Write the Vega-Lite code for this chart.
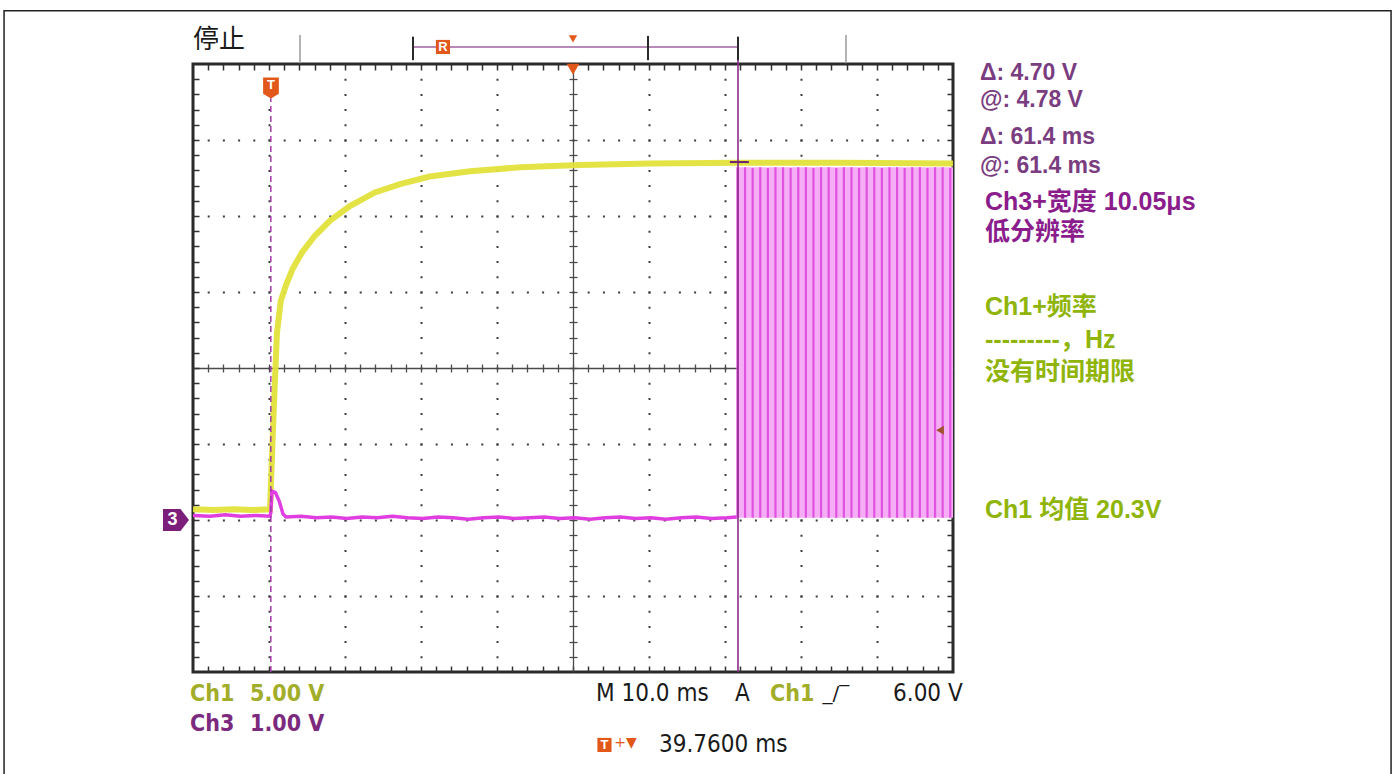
{
  "$schema": "https://vega.github.io/schema/vega-lite/v6.json",
  "width": 760,
  "height": 608,
  "autosize": {"type": "none"},
  "padding": {"left": 193, "top": 64, "right": 442, "bottom": 102},
  "background": "white",
  "config": {"view": {"stroke": "#2a2a2a", "strokeWidth": 3}},
  "resolve": {"axis": {"x": "independent", "y": "independent"}},
  "datasets": {
    "band": [{"t0": 61.4, "t1": 89.76, "lo": -1.97, "hi": 2.64}],
    "pulses": [
      {"t": 61.4, "lo": -1.97, "hi": 2.64}, {"t": 62.4, "lo": -1.97, "hi": 2.64}, {"t": 63.4, "lo": -1.97, "hi": 2.63},
      {"t": 64.4, "lo": -1.97, "hi": 2.64}, {"t": 65.4, "lo": -1.97, "hi": 2.63}, {"t": 66.4, "lo": -1.97, "hi": 2.64},
      {"t": 67.4, "lo": -1.97, "hi": 2.64}, {"t": 68.4, "lo": -1.97, "hi": 2.63}, {"t": 69.4, "lo": -1.97, "hi": 2.64},
      {"t": 70.4, "lo": -1.97, "hi": 2.64}, {"t": 71.4, "lo": -1.97, "hi": 2.63}, {"t": 72.4, "lo": -1.97, "hi": 2.64},
      {"t": 73.4, "lo": -1.97, "hi": 2.64}, {"t": 74.4, "lo": -1.97, "hi": 2.63}, {"t": 75.4, "lo": -1.97, "hi": 2.64},
      {"t": 76.4, "lo": -1.97, "hi": 2.64}, {"t": 77.4, "lo": -1.97, "hi": 2.63}, {"t": 78.4, "lo": -1.97, "hi": 2.64},
      {"t": 79.4, "lo": -1.97, "hi": 2.64}, {"t": 80.4, "lo": -1.97, "hi": 2.63}, {"t": 81.4, "lo": -1.97, "hi": 2.64},
      {"t": 82.4, "lo": -1.97, "hi": 2.64}, {"t": 83.4, "lo": -1.97, "hi": 2.63}, {"t": 84.4, "lo": -1.97, "hi": 2.64},
      {"t": 85.4, "lo": -1.97, "hi": 2.64}, {"t": 86.4, "lo": -1.97, "hi": 2.63}, {"t": 87.4, "lo": -1.97, "hi": 2.64},
      {"t": 88.4, "lo": -1.97, "hi": 2.64}, {"t": 89.4, "lo": -1.97, "hi": 2.63}
    ],
    "ch1": [
      {"t": -10.24, "v": -1.86}, {"t": -7.5, "v": -1.87}, {"t": -5.0, "v": -1.86}, {"t": -2.5, "v": -1.87},
      {"t": -0.1, "v": -1.86}, {"t": 0.1, "v": -1.3}, {"t": 0.4, "v": -0.5}, {"t": 0.8, "v": 0.45},
      {"t": 1.3, "v": 0.88}, {"t": 2.0, "v": 1.09}, {"t": 2.9, "v": 1.31}, {"t": 4.1, "v": 1.52},
      {"t": 5.8, "v": 1.74}, {"t": 7.8, "v": 1.94}, {"t": 10.4, "v": 2.13}, {"t": 13.7, "v": 2.31},
      {"t": 17.0, "v": 2.42}, {"t": 20.9, "v": 2.52}, {"t": 26.2, "v": 2.59}, {"t": 32.8, "v": 2.64},
      {"t": 40.7, "v": 2.67}, {"t": 49.9, "v": 2.69}, {"t": 61.5, "v": 2.7}, {"t": 75.0, "v": 2.7},
      {"t": 89.76, "v": 2.69}
    ],
    "ch3": [
      {"t": -10.24, "v": -1.94}, {"t": -8, "v": -1.95}, {"t": -6, "v": -1.93}, {"t": -4, "v": -1.95},
      {"t": -2, "v": -1.94}, {"t": -0.1, "v": -1.95}, {"t": 0.0, "v": -1.9}, {"t": 0.15, "v": -1.62},
      {"t": 0.6, "v": -1.64}, {"t": 1.1, "v": -1.75}, {"t": 1.6, "v": -1.92}, {"t": 2.0, "v": -1.96},
      {"t": 4, "v": -1.95}, {"t": 6, "v": -1.97}, {"t": 8, "v": -1.96}, {"t": 10, "v": -1.98},
      {"t": 12, "v": -1.96}, {"t": 14, "v": -1.97}, {"t": 16, "v": -1.95}, {"t": 18, "v": -1.97},
      {"t": 20, "v": -1.98}, {"t": 22, "v": -1.96}, {"t": 24, "v": -1.97}, {"t": 26, "v": -1.99},
      {"t": 28, "v": -1.97}, {"t": 30, "v": -1.96}, {"t": 32, "v": -1.98}, {"t": 34, "v": -1.97},
      {"t": 36, "v": -1.96}, {"t": 38, "v": -1.98}, {"t": 40, "v": -1.97}, {"t": 42, "v": -1.99},
      {"t": 44, "v": -1.97}, {"t": 46, "v": -1.96}, {"t": 48, "v": -1.98}, {"t": 50, "v": -1.97},
      {"t": 52, "v": -1.99}, {"t": 54, "v": -1.97}, {"t": 56, "v": -1.96}, {"t": 58, "v": -1.98},
      {"t": 60, "v": -1.97}, {"t": 61.3, "v": -1.96}
    ]
  },
  "layer": [
    {
      "data": {"name": "band"},
      "mark": {"type": "rect", "color": "#f5aef5"},
      "encoding": {
        "x": {"field": "t0", "type": "quantitative", "scale": {"domain": [-10.24, 89.76], "nice": false, "zero": false},
          "axis": {"orient": "bottom", "values": [-0.24, 9.76, 19.76, 29.76, 49.76, 59.76, 69.76, 79.76], "grid": true, "gridColor": "#3c3c3c", "gridWidth": 2, "gridDash": [2, 13.2], "gridDashOffset": 1, "domain": false, "ticks": false, "labels": false, "title": null}},
        "x2": {"field": "t1"},
        "y": {"field": "lo", "type": "quantitative", "scale": {"domain": [-4, 4], "nice": false, "zero": false},
          "axis": {"orient": "left", "values": [-3, -2, -1, 1, 2, 3], "grid": true, "gridColor": "#3c3c3c", "gridWidth": 2, "gridDash": [2, 13.2], "gridDashOffset": 1, "domain": false, "ticks": false, "labels": false, "title": null}},
        "y2": {"field": "hi"}
      }
    },
    {
      "data": {"name": "pulses"},
      "mark": {"type": "rule", "color": "#e052e0", "strokeWidth": 2.2},
      "encoding": {
        "x": {"field": "t", "type": "quantitative", "scale": {"domain": [-10.24, 89.76], "nice": false, "zero": false},
          "axis": {"orient": "bottom", "values": [-8.24, -6.24, -4.24, -2.24, -0.24, 1.76, 3.76, 5.76, 7.76, 9.76, 11.76, 13.76, 15.76, 17.76, 19.76, 21.76, 23.76, 25.76, 27.76, 29.76, 31.76, 33.76, 35.76, 37.76, 39.76, 41.76, 43.76, 45.76, 47.76, 49.76, 51.76, 53.76, 55.76, 57.76, 59.76, 61.76, 63.76, 65.76, 67.76, 69.76, 71.76, 73.76, 75.76, 77.76, 79.76, 81.76, 83.76, 85.76, 87.76], "domain": false, "ticks": true, "tickSize": -6, "tickColor": "#333333", "tickWidth": 1.5, "labels": false, "grid": false, "title": null}},
        "y": {"field": "lo", "type": "quantitative", "scale": {"domain": [-4, 4], "nice": false, "zero": false},
          "axis": {"orient": "left", "values": [-3.8, -3.6, -3.4, -3.2, -3, -2.8, -2.6, -2.4, -2.2, -2, -1.8, -1.6, -1.4, -1.2, -1, -0.8, -0.6, -0.4, -0.2, 0, 0.2, 0.4, 0.6, 0.8, 1, 1.2, 1.4, 1.6, 1.8, 2, 2.2, 2.4, 2.6, 2.8, 3, 3.2, 3.4, 3.6, 3.8], "domain": false, "ticks": true, "tickSize": -6, "tickColor": "#333333", "tickWidth": 1.5, "labels": false, "grid": false, "title": null}},
        "y2": {"field": "hi"}
      }
    },
    {
      "data": {"name": "ch1"},
      "mark": {"type": "line", "color": "#e2e23c", "strokeWidth": 6, "opacity": 0.95},
      "encoding": {
        "x": {"field": "t", "type": "quantitative", "scale": {"domain": [-10.24, 89.76], "nice": false, "zero": false},
          "axis": {"orient": "top", "values": [-8.24, -6.24, -4.24, -2.24, -0.24, 1.76, 3.76, 5.76, 7.76, 9.76, 11.76, 13.76, 15.76, 17.76, 19.76, 21.76, 23.76, 25.76, 27.76, 29.76, 31.76, 33.76, 35.76, 37.76, 39.76, 41.76, 43.76, 45.76, 47.76, 49.76, 51.76, 53.76, 55.76, 57.76, 59.76, 61.76, 63.76, 65.76, 67.76, 69.76, 71.76, 73.76, 75.76, 77.76, 79.76, 81.76, 83.76, 85.76, 87.76], "domain": false, "ticks": true, "tickSize": -6, "tickColor": "#333333", "tickWidth": 1.5, "labels": false, "grid": false, "title": null}},
        "y": {"field": "v", "type": "quantitative", "scale": {"domain": [-4, 4], "nice": false, "zero": false},
          "axis": {"orient": "right", "values": [-3.8, -3.6, -3.4, -3.2, -3, -2.8, -2.6, -2.4, -2.2, -2, -1.8, -1.6, -1.4, -1.2, -1, -0.8, -0.6, -0.4, -0.2, 0, 0.2, 0.4, 0.6, 0.8, 1, 1.2, 1.4, 1.6, 1.8, 2, 2.2, 2.4, 2.6, 2.8, 3, 3.2, 3.4, 3.6, 3.8], "domain": false, "ticks": true, "tickSize": -6, "tickColor": "#333333", "tickWidth": 1.5, "labels": false, "grid": false, "title": null}}
      }
    },
    {
      "data": {"name": "ch3"},
      "mark": {"type": "line", "color": "#e03ee0", "strokeWidth": 3.5},
      "encoding": {
        "x": {"field": "t", "type": "quantitative", "scale": {"domain": [-10.24, 89.76], "nice": false, "zero": false},
          "axis": {"orient": "bottom", "offset": -304, "values": [-8.24, -6.24, -4.24, -2.24, -0.24, 1.76, 3.76, 5.76, 7.76, 9.76, 11.76, 13.76, 15.76, 17.76, 19.76, 21.76, 23.76, 25.76, 27.76, 29.76, 31.76, 33.76, 35.76, 37.76, 39.76, 41.76, 43.76, 45.76, 47.76, 49.76, 51.76, 53.76, 55.76, 57.76, 59.76, 61.76, 63.76, 65.76, 67.76, 69.76, 71.76, 73.76, 75.76, 77.76, 79.76, 81.76, 83.76, 85.76, 87.76], "domain": true, "domainColor": "#4a4a4a", "domainWidth": 1.3, "ticks": true, "tickSize": 4, "tickColor": "#4a4a4a", "tickWidth": 1.3, "labels": false, "grid": false, "title": null}},
        "y": {"field": "v", "type": "quantitative", "scale": {"domain": [-4, 4], "nice": false, "zero": false},
          "axis": {"orient": "left", "offset": -380, "values": [-3.8, -3.6, -3.4, -3.2, -3, -2.8, -2.6, -2.4, -2.2, -2, -1.8, -1.6, -1.4, -1.2, -1, -0.8, -0.6, -0.4, -0.2, 0, 0.2, 0.4, 0.6, 0.8, 1, 1.2, 1.4, 1.6, 1.8, 2, 2.2, 2.4, 2.6, 2.8, 3, 3.2, 3.4, 3.6, 3.8], "domain": true, "domainColor": "#4a4a4a", "domainWidth": 1.3, "ticks": true, "tickSize": 4, "tickColor": "#4a4a4a", "tickWidth": 1.3, "labels": false, "grid": false, "title": null}}
      }
    },
    {
      "data": {"values": [{"t": 0.0, "lo": -4, "hi": 3.55}]},
      "mark": {"type": "rule", "color": "#a23aa8", "strokeWidth": 1.5, "strokeDash": [6, 4]},
      "encoding": {
        "x": {"field": "t", "type": "quantitative", "scale": {"domain": [-10.24, 89.76], "nice": false, "zero": false},
          "axis": {"orient": "top", "offset": -304, "values": [-8.24, -6.24, -4.24, -2.24, -0.24, 1.76, 3.76, 5.76, 7.76, 9.76, 11.76, 13.76, 15.76, 17.76, 19.76, 21.76, 23.76, 25.76, 27.76, 29.76, 31.76, 33.76, 35.76, 37.76, 39.76, 41.76, 43.76, 45.76, 47.76, 49.76, 51.76, 53.76, 55.76, 57.76, 59.76, 61.76, 63.76, 65.76, 67.76, 69.76, 71.76, 73.76, 75.76, 77.76, 79.76, 81.76, 83.76, 85.76, 87.76], "domain": false, "ticks": true, "tickSize": 4, "tickColor": "#4a4a4a", "tickWidth": 1.3, "labels": false, "grid": false, "title": null}},
        "y": {"field": "lo", "type": "quantitative", "scale": {"domain": [-4, 4], "nice": false, "zero": false},
          "axis": {"orient": "right", "offset": -380, "values": [-3.8, -3.6, -3.4, -3.2, -3, -2.8, -2.6, -2.4, -2.2, -2, -1.8, -1.6, -1.4, -1.2, -1, -0.8, -0.6, -0.4, -0.2, 0, 0.2, 0.4, 0.6, 0.8, 1, 1.2, 1.4, 1.6, 1.8, 2, 2.2, 2.4, 2.6, 2.8, 3, 3.2, 3.4, 3.6, 3.8], "domain": false, "ticks": true, "tickSize": 4, "tickColor": "#4a4a4a", "tickWidth": 1.3, "labels": false, "grid": false, "title": null}},
        "y2": {"field": "hi"}
      }
    },
    {
      "data": {"values": [{"t": 61.47, "lo": -4, "hi": 4.3}]},
      "mark": {"type": "rule", "color": "#8c2a8c", "strokeWidth": 1.6},
      "encoding": {
        "x": {"field": "t", "type": "quantitative", "scale": {"domain": [-10.24, 89.76], "nice": false, "zero": false}, "axis": null},
        "y": {"field": "lo", "type": "quantitative", "scale": {"domain": [-4, 4], "nice": false, "zero": false}, "axis": null},
        "y2": {"field": "hi"}
      }
    },
    {
      "data": {"values": [{"a": 60.4, "b": 62.9, "v": 2.71}]},
      "mark": {"type": "rule", "color": "#6e2470", "strokeWidth": 2},
      "encoding": {
        "x": {"field": "a", "type": "quantitative", "scale": {"domain": [-10.24, 89.76], "nice": false, "zero": false}, "axis": null},
        "x2": {"field": "b"},
        "y": {"field": "v", "type": "quantitative", "scale": {"domain": [-4, 4], "nice": false, "zero": false}, "axis": null}
      }
    },
    {
      "data": {"values": [{"a": 18.71, "b": 61.47, "v": 4.224}]},
      "mark": {"type": "rule", "color": "#b78ab7", "strokeWidth": 2},
      "encoding": {
        "x": {"field": "a", "type": "quantitative", "scale": {"domain": [-10.24, 89.76], "nice": false, "zero": false}, "axis": null},
        "x2": {"field": "b"},
        "y": {"field": "v", "type": "quantitative", "scale": {"domain": [-4, 4], "nice": false, "zero": false}, "axis": null}
      }
    },
    {
      "data": {"values": [{"t": 18.71, "lo": 4.05, "hi": 4.36}, {"t": 61.47, "lo": 4.05, "hi": 4.36}, {"t": 49.63, "lo": 4.05, "hi": 4.37}]},
      "mark": {"type": "rule", "color": "#2a2a2a", "strokeWidth": 2},
      "encoding": {
        "x": {"field": "t", "type": "quantitative", "scale": {"domain": [-10.24, 89.76], "nice": false, "zero": false}, "axis": null},
        "y": {"field": "lo", "type": "quantitative", "scale": {"domain": [-4, 4], "nice": false, "zero": false}, "axis": null},
        "y2": {"field": "hi"}
      }
    },
    {
      "data": {"values": [{"t": 3.84, "lo": 4.01, "hi": 4.38}, {"t": 75.68, "lo": 4.01, "hi": 4.38}]},
      "mark": {"type": "rule", "color": "#9a9a9a", "strokeWidth": 1.5},
      "encoding": {
        "x": {"field": "t", "type": "quantitative", "scale": {"domain": [-10.24, 89.76], "nice": false, "zero": false}, "axis": null},
        "y": {"field": "lo", "type": "quantitative", "scale": {"domain": [-4, 4], "nice": false, "zero": false}, "axis": null},
        "y2": {"field": "hi"}
      }
    },
    {
      "data": {"values": [{"t": 39.76, "v": 3.93}]},
      "mark": {"type": "point", "shape": "triangle-down", "filled": true, "size": 160, "color": "#e2581b", "opacity": 1},
      "encoding": {
        "x": {"field": "t", "type": "quantitative", "scale": {"domain": [-10.24, 89.76], "nice": false, "zero": false}, "axis": null},
        "y": {"field": "v", "type": "quantitative", "scale": {"domain": [-4, 4], "nice": false, "zero": false}, "axis": null}
      }
    },
    {
      "data": {"values": [{"t": 39.76, "v": 4.33}]},
      "mark": {"type": "point", "shape": "triangle-down", "filled": true, "size": 70, "color": "#e2581b", "opacity": 1},
      "encoding": {
        "x": {"field": "t", "type": "quantitative", "scale": {"domain": [-10.24, 89.76], "nice": false, "zero": false}, "axis": null},
        "y": {"field": "v", "type": "quantitative", "scale": {"domain": [-4, 4], "nice": false, "zero": false}, "axis": null}
      }
    },
    {
      "data": {"values": [{"t": 88.05, "v": -0.82}]},
      "mark": {"type": "point", "shape": "triangle-left", "filled": true, "size": 80, "color": "#a0522d", "opacity": 1},
      "encoding": {
        "x": {"field": "t", "type": "quantitative", "scale": {"domain": [-10.24, 89.76], "nice": false, "zero": false}, "axis": null},
        "y": {"field": "v", "type": "quantitative", "scale": {"domain": [-4, 4], "nice": false, "zero": false}, "axis": null}
      }
    },
    {
      "data": {"values": [{"t": 0.02, "v": 3.684}]},
      "mark": {"type": "point", "shape": "M-0.75,-1L0.75,-1L0.75,0.55L0,1L-0.75,0.55Z", "filled": true, "size": 441, "color": "#e2581b", "opacity": 1},
      "encoding": {
        "x": {"field": "t", "type": "quantitative", "scale": {"domain": [-10.24, 89.76], "nice": false, "zero": false}, "axis": null},
        "y": {"field": "v", "type": "quantitative", "scale": {"domain": [-4, 4], "nice": false, "zero": false}, "axis": null}
      }
    },
    {
      "data": {"values": [{"t": 22.65, "v": 4.224}, {"t": 43.9, "v": -4.96}]},
      "mark": {"type": "point", "shape": "square", "filled": true, "size": 200, "color": "#e2581b", "opacity": 1},
      "encoding": {
        "x": {"field": "t", "type": "quantitative", "scale": {"domain": [-10.24, 89.76], "nice": false, "zero": false}, "axis": null},
        "y": {"field": "v", "type": "quantitative", "scale": {"domain": [-4, 4], "nice": false, "zero": false}, "axis": null}
      }
    },
    {
      "data": {"values": [{"t": 0.02, "v": 3.72, "label": "T"}, {"t": 43.9, "v": -4.955, "label": "T"}, {"t": 22.65, "v": 4.224, "label": "R"}]},
      "mark": {"type": "text", "align": "center", "baseline": "middle", "font": "Liberation Sans", "fontSize": 13, "fontWeight": "bold", "color": "#ffffff"},
      "encoding": {
        "x": {"field": "t", "type": "quantitative", "scale": {"domain": [-10.24, 89.76], "nice": false, "zero": false}, "axis": null},
        "y": {"field": "v", "type": "quantitative", "scale": {"domain": [-4, 4], "nice": false, "zero": false}, "axis": null},
        "text": {"field": "label"}
      }
    },
    {
      "data": {"values": [{"t": -12.48, "v": -2.0}]},
      "mark": {"type": "point", "shape": "M-1,-0.85L0.35,-0.85L1,0L0.35,0.85L-1,0.85Z", "filled": true, "size": 676, "color": "#7b1f7b", "opacity": 1},
      "encoding": {
        "x": {"field": "t", "type": "quantitative", "scale": {"domain": [-10.24, 89.76], "nice": false, "zero": false}, "axis": null},
        "y": {"field": "v", "type": "quantitative", "scale": {"domain": [-4, 4], "nice": false, "zero": false}, "axis": null}
      }
    },
    {
      "data": {"values": [{"t": -12.95, "v": -2.0, "label": "3"}]},
      "mark": {"type": "text", "align": "center", "baseline": "middle", "font": "Liberation Sans", "fontSize": 18, "fontWeight": "bold", "color": "#ffffff"},
      "encoding": {
        "x": {"field": "t", "type": "quantitative", "scale": {"domain": [-10.24, 89.76], "nice": false, "zero": false}, "axis": null},
        "y": {"field": "v", "type": "quantitative", "scale": {"domain": [-4, 4], "nice": false, "zero": false}, "axis": null},
        "text": {"field": "label"}
      }
    },
    {
      "data": {"values": [{"t": -10.24, "v": 4.316, "label": "停止"}]},
      "mark": {"type": "text", "align": "left", "baseline": "middle", "font": "Noto Sans CJK SC", "fontSize": 26, "fontWeight": "normal", "color": "#1a1a1a"},
      "encoding": {
        "x": {"field": "t", "type": "quantitative", "scale": {"domain": [-10.24, 89.76], "nice": false, "zero": false}, "axis": null},
        "y": {"field": "v", "type": "quantitative", "scale": {"domain": [-4, 4], "nice": false, "zero": false}, "axis": null},
        "text": {"field": "label"}
      }
    },
    {
      "data": {"values": [
        {"t": 93.31, "v": 3.882, "label": "Δ: 4.70 V"},
        {"t": 93.31, "v": 3.526, "label": "@: 4.78 V"},
        {"t": 93.31, "v": 3.039, "label": "Δ: 61.4 ms"},
        {"t": 93.31, "v": 2.658, "label": "@: 61.4 ms"}
      ]},
      "mark": {"type": "text", "align": "left", "baseline": "middle", "font": "Liberation Sans", "fontSize": 23, "fontWeight": "bold", "color": "#7a3d7f"},
      "encoding": {
        "x": {"field": "t", "type": "quantitative", "scale": {"domain": [-10.24, 89.76], "nice": false, "zero": false}, "axis": null},
        "y": {"field": "v", "type": "quantitative", "scale": {"domain": [-4, 4], "nice": false, "zero": false}, "axis": null},
        "text": {"field": "label"}
      }
    },
    {
      "data": {"values": [
        {"t": 93.97, "v": 2.184, "label": "Ch3+宽度 10.05μs"},
        {"t": 93.97, "v": 1.789, "label": "低分辨率"}
      ]},
      "mark": {"type": "text", "align": "left", "baseline": "middle", "font": "Liberation Sans, Noto Sans CJK SC", "fontSize": 25, "fontWeight": "bold", "color": "#8a1c8c"},
      "encoding": {
        "x": {"field": "t", "type": "quantitative", "scale": {"domain": [-10.24, 89.76], "nice": false, "zero": false}, "axis": null},
        "y": {"field": "v", "type": "quantitative", "scale": {"domain": [-4, 4], "nice": false, "zero": false}, "axis": null},
        "text": {"field": "label"}
      }
    },
    {
      "data": {"values": [
        {"t": 93.97, "v": 0.803, "label": "Ch1+频率"},
        {"t": 93.97, "v": 0.368, "label": "---------，Hz"},
        {"t": 93.97, "v": -0.053, "label": "没有时间期限"},
        {"t": 93.97, "v": -1.868, "label": "Ch1 均值 20.3V"}
      ]},
      "mark": {"type": "text", "align": "left", "baseline": "middle", "font": "Liberation Sans, Noto Sans CJK SC", "fontSize": 25, "fontWeight": "bold", "color": "#8fb40a"},
      "encoding": {
        "x": {"field": "t", "type": "quantitative", "scale": {"domain": [-10.24, 89.76], "nice": false, "zero": false}, "axis": null},
        "y": {"field": "v", "type": "quantitative", "scale": {"domain": [-4, 4], "nice": false, "zero": false}, "axis": null},
        "text": {"field": "label"}
      }
    },
    {
      "data": {"values": [
        {"t": -10.63, "v": -4.29, "label": "Ch1"},
        {"t": -2.74, "v": -4.29, "label": "5.00 V"},
        {"t": 65.68, "v": -4.29, "label": "Ch1"}
      ]},
      "mark": {"type": "text", "align": "left", "baseline": "middle", "font": "DejaVu Sans Condensed", "fontSize": 23, "fontWeight": "bold", "color": "#a2ad2a"},
      "encoding": {
        "x": {"field": "t", "type": "quantitative", "scale": {"domain": [-10.24, 89.76], "nice": false, "zero": false}, "axis": null},
        "y": {"field": "v", "type": "quantitative", "scale": {"domain": [-4, 4], "nice": false, "zero": false}, "axis": null},
        "text": {"field": "label"}
      }
    },
    {
      "data": {"values": [
        {"t": -10.63, "v": -4.684, "label": "Ch3"},
        {"t": -2.74, "v": -4.684, "label": "1.00 V"}
      ]},
      "mark": {"type": "text", "align": "left", "baseline": "middle", "font": "DejaVu Sans Condensed", "fontSize": 23, "fontWeight": "bold", "color": "#7b2a7d"},
      "encoding": {
        "x": {"field": "t", "type": "quantitative", "scale": {"domain": [-10.24, 89.76], "nice": false, "zero": false}, "axis": null},
        "y": {"field": "v", "type": "quantitative", "scale": {"domain": [-4, 4], "nice": false, "zero": false}, "axis": null},
        "text": {"field": "label"}
      }
    },
    {
      "data": {"values": [
        {"t": 42.79, "v": -4.29, "label": "M 10.0 ms"},
        {"t": 61.08, "v": -4.29, "label": "A"},
        {"t": 81.87, "v": -4.29, "label": "6.00 V"},
        {"t": 51.08, "v": -4.96, "label": "39.7600 ms"}
      ]},
      "mark": {"type": "text", "align": "left", "baseline": "middle", "font": "DejaVu Sans Condensed", "fontSize": 24, "color": "#1a1a1a"},
      "encoding": {
        "x": {"field": "t", "type": "quantitative", "scale": {"domain": [-10.24, 89.76], "nice": false, "zero": false}, "axis": null},
        "y": {"field": "v", "type": "quantitative", "scale": {"domain": [-4, 4], "nice": false, "zero": false}, "axis": null},
        "text": {"field": "label"}
      }
    },
    {
      "data": {"values": [{"t": 72.6, "v": -4.29, "label": "_/‾"}]},
      "mark": {"type": "text", "align": "left", "baseline": "middle", "font": "DejaVu Sans", "fontSize": 20, "color": "#1a1a1a"},
      "encoding": {
        "x": {"field": "t", "type": "quantitative", "scale": {"domain": [-10.24, 89.76], "nice": false, "zero": false}, "axis": null},
        "y": {"field": "v", "type": "quantitative", "scale": {"domain": [-4, 4], "nice": false, "zero": false}, "axis": null},
        "text": {"field": "label"}
      }
    },
    {
      "data": {"values": [{"t": 45.2, "v": -4.93, "label": "+▼"}]},
      "mark": {"type": "text", "align": "left", "baseline": "middle", "font": "DejaVu Sans", "fontSize": 14, "color": "#e2581b"},
      "encoding": {
        "x": {"field": "t", "type": "quantitative", "scale": {"domain": [-10.24, 89.76], "nice": false, "zero": false}, "axis": null},
        "y": {"field": "v", "type": "quantitative", "scale": {"domain": [-4, 4], "nice": false, "zero": false}, "axis": null},
        "text": {"field": "label"}
      }
    },
    {
      "data": {"values": [{"a": -35.1, "b": 147.4, "lo": -5.45, "hi": 4.7}]},
      "mark": {"type": "rect", "fill": null, "fillOpacity": 0, "stroke": "#222222", "strokeWidth": 1.5},
      "encoding": {
        "x": {"field": "a", "type": "quantitative", "scale": {"domain": [-10.24, 89.76], "nice": false, "zero": false}, "axis": null},
        "x2": {"field": "b"},
        "y": {"field": "lo", "type": "quantitative", "scale": {"domain": [-4, 4], "nice": false, "zero": false}, "axis": null},
        "y2": {"field": "hi"}
      }
    }
  ]
}
